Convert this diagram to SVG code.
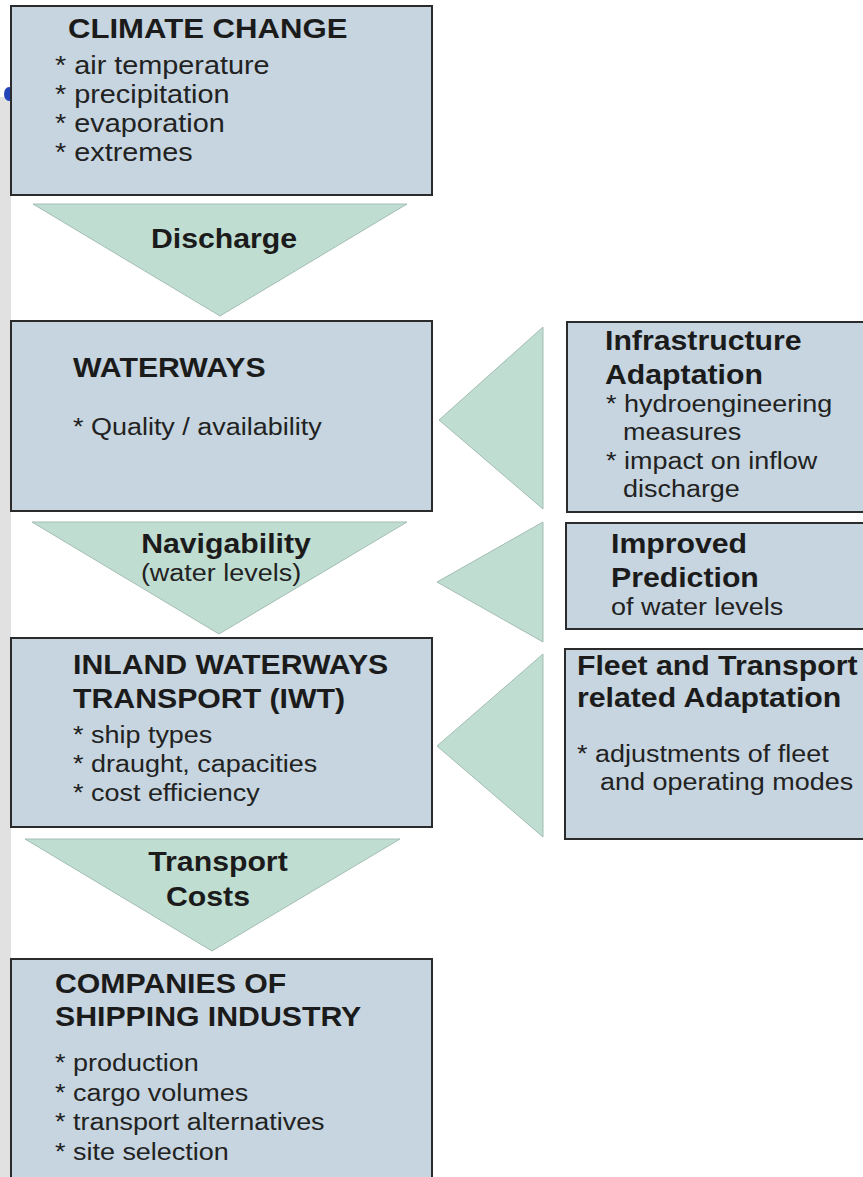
<svg xmlns="http://www.w3.org/2000/svg" width="863" height="1177" viewBox="0 0 863 1177">
  <style>
    .box { fill: #c6d5df; stroke: #2b2b2b; stroke-width: 2; }
    .flow { fill: #c0ddd2; stroke: #a3bdb4; stroke-width: 1; }
    .hd { font-family: "Liberation Sans", Arial, sans-serif; font-weight: bold; font-size: 27.5px; fill: #1b1b1b; }
    .tx { font-family: "Liberation Sans", Arial, sans-serif; font-size: 24.5px; fill: #222; }
    .big { font-size: 26.2px; }
    .bighd { font-size: 28.3px; }
    .mid { text-anchor: middle; }
  </style>

  <!-- page background and side strip -->
  <rect x="0" y="0" width="863" height="1177" fill="#ffffff"/>
  <rect x="0" y="97" width="11" height="1080" fill="#e1e1e1"/>
  <ellipse cx="9" cy="94" rx="5" ry="7" fill="#2344b8"/>

  <!-- connectors: flow arrows -->
  <g id="connectors">
    <polygon class="flow" points="33,204 407,204 220,316"/>
    <polygon class="flow" points="32,522 407,522 219,634"/>
    <polygon class="flow" points="25,839 400,839 212,951"/>
    <polygon class="flow" points="543,327 543,509 439,420"/>
    <polygon class="flow" points="543,522 543,642 437,582"/>
    <polygon class="flow" points="543,654 543,837 437,746"/>
    <text class="hd mid" transform="translate(224,248) scale(1.1,1)">Discharge</text>
    <text class="hd mid" transform="translate(226,553) scale(1.1,1)">Navigability</text>
    <text class="tx mid" transform="translate(221,581) scale(1.1,1)">(water levels)</text>
    <text class="hd mid" transform="translate(218,871) scale(1.1,1)">Transport</text>
    <text class="hd mid" transform="translate(208,906) scale(1.1,1)">Costs</text>
  </g>

  <g id="climate-change">
    <rect class="box" x="11" y="6" width="421" height="189"/>
    <text class="hd bighd" transform="translate(68,38) scale(1.1,1)">CLIMATE CHANGE</text>
    <text class="tx big" transform="translate(55,74) scale(1.1,1)">* air temperature</text>
    <text class="tx big" transform="translate(55,103) scale(1.1,1)">* precipitation</text>
    <text class="tx big" transform="translate(55,132) scale(1.1,1)">* evaporation</text>
    <text class="tx big" transform="translate(55,161) scale(1.1,1)">* extremes</text>
  </g>

  <g id="waterways">
    <rect class="box" x="11" y="321" width="421" height="190"/>
    <text class="hd" transform="translate(73,377) scale(1.1,1)">WATERWAYS</text>
    <text class="tx" transform="translate(73,435) scale(1.1,1)">* Quality / availability</text>
  </g>

  <g id="iwt">
    <rect class="box" x="11" y="638" width="421" height="189"/>
    <text class="hd" transform="translate(73,674) scale(1.1,1)">INLAND WATERWAYS</text>
    <text class="hd" transform="translate(73,708) scale(1.1,1)">TRANSPORT (IWT)</text>
    <text class="tx" transform="translate(73,743) scale(1.1,1)">* ship types</text>
    <text class="tx" transform="translate(73,772) scale(1.1,1)">* draught, capacities</text>
    <text class="tx" transform="translate(73,801) scale(1.1,1)">* cost efficiency</text>
  </g>

  <g id="shipping-industry">
    <rect class="box" x="11" y="959" width="421" height="240"/>
    <text class="hd" transform="translate(55,993) scale(1.1,1)">COMPANIES OF</text>
    <text class="hd" transform="translate(55,1026) scale(1.1,1)">SHIPPING INDUSTRY</text>
    <text class="tx" transform="translate(55,1071) scale(1.1,1)">* production</text>
    <text class="tx" transform="translate(55,1101) scale(1.1,1)">* cargo volumes</text>
    <text class="tx" transform="translate(55,1130) scale(1.1,1)">* transport alternatives</text>
    <text class="tx" transform="translate(55,1160) scale(1.1,1)">* site selection</text>
  </g>

  <g id="infrastructure-adaptation">
    <rect class="box" x="567" y="322" width="310" height="190"/>
    <text class="hd" transform="translate(605,350) scale(1.1,1)">Infrastructure</text>
    <text class="hd" transform="translate(605,384) scale(1.1,1)">Adaptation</text>
    <text class="tx" transform="translate(606,412) scale(1.1,1)">* hydroengineering</text>
    <text class="tx" transform="translate(623,440) scale(1.1,1)">measures</text>
    <text class="tx" transform="translate(606,469) scale(1.1,1)">* impact on inflow</text>
    <text class="tx" transform="translate(623,497) scale(1.1,1)">discharge</text>
  </g>

  <g id="improved-prediction">
    <rect class="box" x="566" y="523" width="310" height="106"/>
    <text class="hd" transform="translate(611,553) scale(1.1,1)">Improved</text>
    <text class="hd" transform="translate(611,587) scale(1.1,1)">Prediction</text>
    <text class="tx" transform="translate(611,615) scale(1.1,1)">of water levels</text>
  </g>

  <g id="fleet-adaptation">
    <rect class="box" x="565" y="649" width="310" height="190"/>
    <text class="hd" transform="translate(577,675) scale(1.1,1)">Fleet and Transport</text>
    <text class="hd" transform="translate(577,707) scale(1.1,1)">related Adaptation</text>
    <text class="tx" transform="translate(577,762) scale(1.1,1)">* adjustments of fleet</text>
    <text class="tx" transform="translate(600,790) scale(1.1,1)">and operating modes</text>
  </g>
</svg>
